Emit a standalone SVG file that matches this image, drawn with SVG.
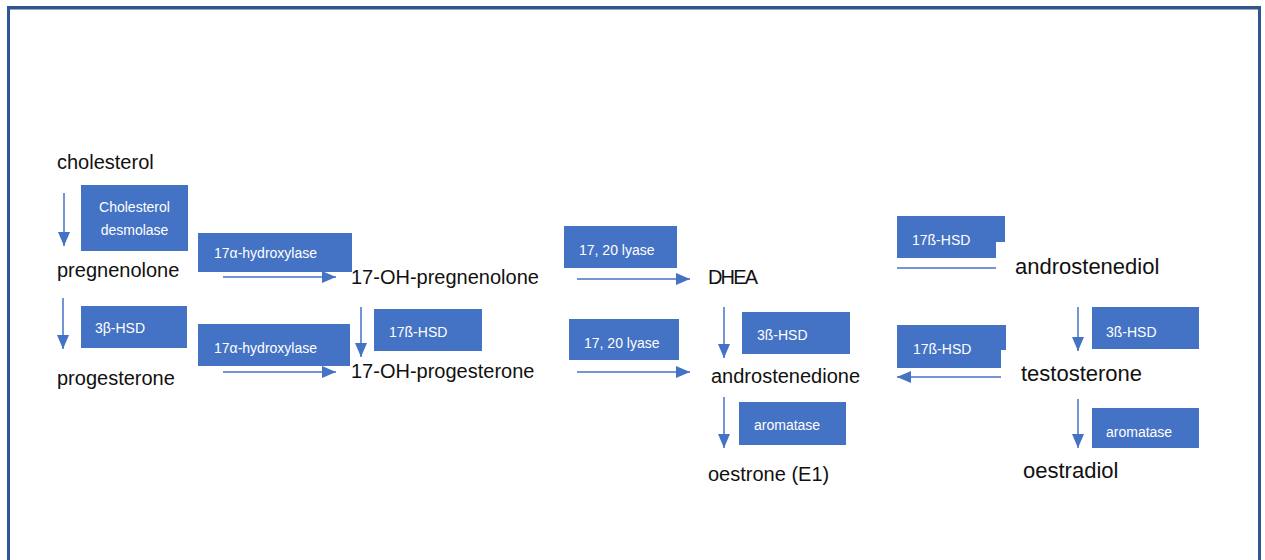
<svg xmlns="http://www.w3.org/2000/svg" width="1265" height="560" viewBox="0 0 1265 560">
<defs>
<marker id="ah" viewBox="0 0 14 12" refX="14" refY="6" markerWidth="14" markerHeight="12" markerUnits="userSpaceOnUse" orient="auto">
<path d="M0,0 L14,6 L0,12 Z" fill="#4472C4"/>
</marker>
<style>
.box{fill:#4472C4;}
.bt{font-family:"Liberation Sans",Arial,sans-serif;font-size:14px;fill:#FFFFFF;}
.mt{font-family:"Liberation Sans",Arial,sans-serif;font-size:20px;fill:#111111;}
.mt2{font-family:"Liberation Sans",Arial,sans-serif;font-size:22px;fill:#111111;}
.cn{stroke:#4472C4;stroke-width:1.5;fill:none;}
.ar{marker-end:url(#ah);}
</style>
</defs>
<rect width="1265" height="560" fill="#FFFFFF"/>
<rect x="8.5" y="7.5" width="1251" height="600" fill="none" stroke="#2F5597" stroke-width="3"/>
<line x1="10" y1="9.5" x2="1258" y2="9.5" stroke="#A6A6A6" stroke-width="1"/>

<g id="connectors">
<line class="cn ar" x1="64" y1="193" x2="64" y2="246"/>
<line class="cn ar" x1="63" y1="298" x2="63" y2="349"/>
<line class="cn ar" x1="223" y1="277" x2="336" y2="277"/>
<line class="cn ar" x1="223" y1="372" x2="336" y2="372"/>
<line class="cn ar" x1="361" y1="307" x2="361" y2="357"/>
<line class="cn ar" x1="577" y1="279" x2="690" y2="279"/>
<line class="cn ar" x1="577" y1="372" x2="690" y2="372"/>
<line class="cn ar" x1="724" y1="307" x2="724" y2="358"/>
<line class="cn ar" x1="724" y1="397" x2="724" y2="448"/>
<line class="cn" x1="897" y1="268" x2="996" y2="268"/>
<line class="cn ar" x1="1001" y1="377" x2="897" y2="377"/>
<line class="cn ar" x1="1078" y1="307" x2="1078" y2="351"/>
<line class="cn ar" x1="1078" y1="399" x2="1078" y2="448"/>
</g>

<g id="n-cholesterol"><text class="mt" x="57" y="169">cholesterol</text></g>
<g id="n-pregnenolone"><text class="mt" x="57" y="277">pregnenolone</text></g>
<g id="n-progesterone"><text class="mt" x="57" y="385">progesterone</text></g>
<g id="n-17oh-pregnenolone"><text class="mt" x="351" y="284">17-OH-pregnenolone</text></g>
<g id="n-17oh-progesterone"><text class="mt" x="351" y="378">17-OH-progesterone</text></g>
<g id="n-dhea"><text class="mt" x="708" y="284" textLength="50">DHEA</text></g>
<g id="n-androstenedione"><text class="mt" x="711" y="383">androstenedione</text></g>
<g id="n-oestrone"><text class="mt" x="708" y="481">oestrone (E1)</text></g>
<g id="n-androstenediol"><text class="mt2" x="1015" y="274">androstenediol</text></g>
<g id="n-testosterone"><text class="mt2" x="1021" y="381">testosterone</text></g>
<g id="n-oestradiol"><text class="mt2" x="1023" y="478">oestradiol</text></g>

<g id="e-desmolase"><rect class="box" x="81" y="185" width="107" height="66"/><text class="bt" x="134.5" y="212" text-anchor="middle">Cholesterol</text><text class="bt" x="134.5" y="235" text-anchor="middle">desmolase</text></g>
<g id="e-3bhsd-1"><rect class="box" x="81" y="306" width="106" height="42"/><text class="bt" x="95" y="333">3β-HSD</text></g>
<g id="e-17ahyd-1"><rect class="box" x="198" y="233" width="154" height="39"/><text class="bt" x="214" y="258">17α-hydroxylase</text></g>
<g id="e-17ahyd-2"><rect class="box" x="198" y="324" width="152" height="42"/><text class="bt" x="214" y="353">17α-hydroxylase</text></g>
<g id="e-17bhsd-1"><rect class="box" x="374" y="309" width="108" height="42"/><text class="bt" x="389" y="337">17ß-HSD</text></g>
<g id="e-lyase-1"><rect class="box" x="564" y="226" width="113" height="42"/><text class="bt" x="579" y="255">17, 20 lyase</text></g>
<g id="e-lyase-2"><rect class="box" x="569" y="319" width="110" height="41"/><text class="bt" x="584" y="348">17, 20 lyase</text></g>
<g id="e-3bhsd-2"><rect class="box" x="742" y="312" width="108" height="42"/><text class="bt" x="757" y="340">3ß-HSD</text></g>
<g id="e-aromatase-1"><rect class="box" x="739" y="402" width="107" height="43"/><text class="bt" x="754" y="430">aromatase</text></g>
<g id="e-17bhsd-2"><path class="box" d="M897,216 H1005 V242 H996 V258 H897 Z"/><text class="bt" x="912" y="245">17ß-HSD</text></g>
<g id="e-17bhsd-3"><path class="box" d="M897,325 H1006 V350 H1001 V368 H897 Z"/><text class="bt" x="913" y="354">17ß-HSD</text></g>
<g id="e-3bhsd-3"><rect class="box" x="1092" y="307" width="107" height="42"/><text class="bt" x="1106" y="337">3ß-HSD</text></g>
<g id="e-aromatase-2"><rect class="box" x="1092" y="408" width="107" height="40"/><text class="bt" x="1106" y="437">aromatase</text></g>
</svg>
